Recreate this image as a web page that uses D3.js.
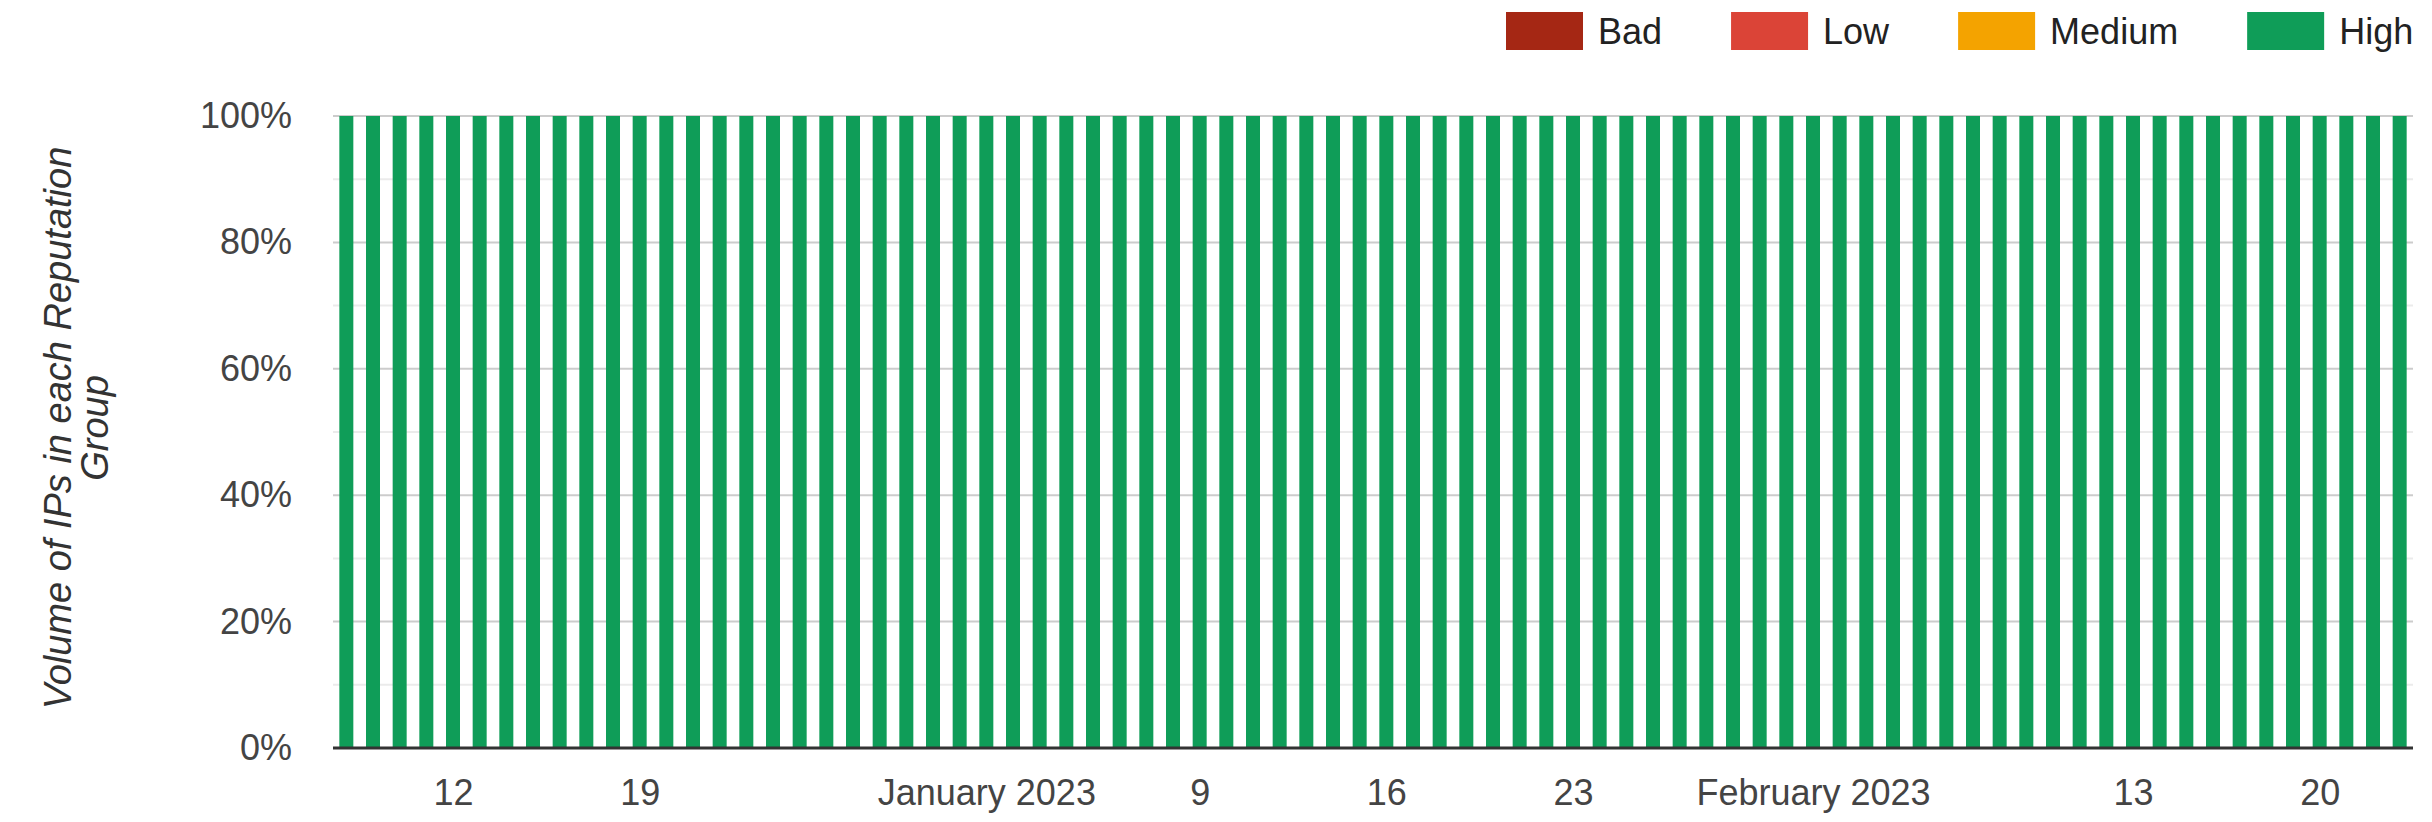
<!DOCTYPE html>
<html>
<head>
<meta charset="utf-8">
<script src="https://cdn.jsdelivr.net/npm/d3@7"></script>
<style>
  body { margin: 0; background: #fff; }
  svg { display: block; font-family: Arial, "Liberation Sans", sans-serif; }
</style>
</head>
<body>
<svg id="chart" width="2432" height="822"></svg>
<script>
// daily dates, 8 Dec 2022 .. 23 Feb 2023
var dayLabels = [
  "2022-12-08","2022-12-09","2022-12-10","2022-12-11","2022-12-12","2022-12-13","2022-12-14","2022-12-15",
  "2022-12-16","2022-12-17","2022-12-18","2022-12-19","2022-12-20","2022-12-21","2022-12-22","2022-12-23",
  "2022-12-24","2022-12-25","2022-12-26","2022-12-27","2022-12-28","2022-12-29","2022-12-30","2022-12-31",
  "2023-01-01","2023-01-02","2023-01-03","2023-01-04","2023-01-05","2023-01-06","2023-01-07","2023-01-08",
  "2023-01-09","2023-01-10","2023-01-11","2023-01-12","2023-01-13","2023-01-14","2023-01-15","2023-01-16",
  "2023-01-17","2023-01-18","2023-01-19","2023-01-20","2023-01-21","2023-01-22","2023-01-23","2023-01-24",
  "2023-01-25","2023-01-26","2023-01-27","2023-01-28","2023-01-29","2023-01-30","2023-01-31","2023-02-01",
  "2023-02-02","2023-02-03","2023-02-04","2023-02-05","2023-02-06","2023-02-07","2023-02-08","2023-02-09",
  "2023-02-10","2023-02-11","2023-02-12","2023-02-13","2023-02-14","2023-02-15","2023-02-16","2023-02-17",
  "2023-02-18","2023-02-19","2023-02-20","2023-02-21","2023-02-22","2023-02-23"
];

// share of IPs (%) per reputation group
var badValues = [
  0,0,0,0,0,0,0,0,0,0,0,0,0,0,0,0,0,0,0,0,0,0,0,0,0,0,0,0,0,0,0,0,0,0,0,0,0,0,0,
  0,0,0,0,0,0,0,0,0,0,0,0,0,0,0,0,0,0,0,0,0,0,0,0,0,0,0,0,0,0,0,0,0,0,0,0,0,0,0
];
var lowValues = [
  0,0,0,0,0,0,0,0,0,0,0,0,0,0,0,0,0,0,0,0,0,0,0,0,0,0,0,0,0,0,0,0,0,0,0,0,0,0,0,
  0,0,0,0,0,0,0,0,0,0,0,0,0,0,0,0,0,0,0,0,0,0,0,0,0,0,0,0,0,0,0,0,0,0,0,0,0,0,0
];
var mediumValues = [
  0,0,0,0,0,0,0,0,0,0,0,0,0,0,0,0,0,0,0,0,0,0,0,0,0,0,0,0,0,0,0,0,0,0,0,0,0,0,0,
  0,0,0,0,0,0,0,0,0,0,0,0,0,0,0,0,0,0,0,0,0,0,0,0,0,0,0,0,0,0,0,0,0,0,0,0,0,0,0
];
var highValues = [
  100,100,100,100,100,100,100,100,100,100,100,100,100,100,100,100,100,100,100,100,100,100,100,100,100,100,
  100,100,100,100,100,100,100,100,100,100,100,100,100,100,100,100,100,100,100,100,100,100,100,100,100,100,
  100,100,100,100,100,100,100,100,100,100,100,100,100,100,100,100,100,100,100,100,100,100,100,100,100,100
];

var seriesNames = ["Bad", "Low", "Medium", "High"];
var seriesColors = ["#a52714", "#db4437", "#f4a300", "#0f9d58"];

var xTickDates = ["2022-12-12","2022-12-19","2023-01-01","2023-01-09","2023-01-16","2023-01-23","2023-02-01","2023-02-13","2023-02-20"];
var xTickLabels = ["12","19","January 2023","9","16","23","February 2023","13","20"];
var yTicks = [0, 20, 40, 60, 80, 100];
var yMinorTicks = [10, 30, 50, 70, 90];

(function drawChart(){
  var parseDay = d3.timeParse("%Y-%m-%d");

  var rows = dayLabels.map(function(s, i){
    return { date: parseDay(s), Bad: badValues[i], Low: lowValues[i], Medium: mediumValues[i], High: highValues[i] };
  });

  var svg = d3.select("#chart");
  var plotLeft = 333, plotRight = 2413, plotTop = 116, plotBottom = 748;

  // half a day of padding either side so bars sit centred on their date
  var x = d3.scaleTime()
    .domain([d3.timeHour.offset(rows[0].date, -12), d3.timeHour.offset(rows[rows.length - 1].date, 12)])
    .range([plotLeft, plotRight]);
  var y = d3.scaleLinear().domain([0, 100]).range([plotBottom, plotTop]);
  var barW = 14;

  // minor gridlines
  svg.append("g").selectAll("line")
    .data(yMinorTicks)
    .enter()
    .append("line")
    .attr("x1", plotLeft).attr("x2", plotRight)
    .attr("y1", function(d){ return y(d); })
    .attr("y2", function(d){ return y(d); })
    .attr("stroke", "#ebebeb")
    .attr("stroke-width", 2);

  // major gridlines
  svg.append("g").selectAll("line")
    .data(yTicks.filter(function(d){ return d > 0; }))
    .enter()
    .append("line")
    .attr("x1", plotLeft).attr("x2", plotRight)
    .attr("y1", function(d){ return y(d); })
    .attr("y2", function(d){ return y(d); })
    .attr("stroke", "#cccccc")
    .attr("stroke-width", 2);

  // stacked bars
  var stacked = d3.stack().keys(seriesNames)(rows);
  svg.append("g").selectAll("g")
    .data(stacked)
    .enter()
    .append("g")
    .attr("fill", function(d, i){ return seriesColors[i]; })
    .selectAll("rect")
    .data(function(d){ return d; })
    .enter()
    .append("rect")
    .attr("x", function(d){ return x(d.data.date) - barW / 2; })
    .attr("width", barW)
    .attr("y", function(d){ return y(d[1]); })
    .attr("height", function(d){ return Math.max(0, y(d[0]) - y(d[1])); });

  // baseline
  svg.append("line")
    .attr("x1", plotLeft).attr("x2", plotRight)
    .attr("y1", y(0)).attr("y2", y(0))
    .attr("stroke", "#333")
    .attr("stroke-width", 3);

  // y axis labels
  var yAxis = svg.append("g")
    .attr("transform", "translate(292,0)")
    .call(d3.axisLeft(y).tickValues(yTicks).tickSize(0).tickPadding(0)
      .tickFormat(function(d){ return d + "%"; }));
  yAxis.select(".domain").remove();
  yAxis.selectAll("text")
    .attr("font-size", 36)
    .attr("font-family", "Arial, 'Liberation Sans', sans-serif")
    .attr("fill", "#444");

  // x axis labels
  var xAxis = svg.append("g")
    .attr("transform", "translate(0," + plotBottom + ")")
    .call(d3.axisBottom(x).tickValues(xTickDates.map(parseDay)).tickSize(0).tickPadding(31)
      .tickFormat(function(d, i){ return xTickLabels[i]; }));
  xAxis.select(".domain").remove();
  xAxis.selectAll("text")
    .attr("font-size", 36)
    .attr("font-family", "Arial, 'Liberation Sans', sans-serif")
    .attr("fill", "#444");

  // y axis title
  var yTitle = svg.append("text")
    .attr("transform", "translate(58," + ((plotTop + plotBottom) / 2 - 4) + ") rotate(-90)")
    .attr("text-anchor", "middle")
    .attr("font-size", 38)
    .attr("font-style", "italic")
    .attr("fill", "#333");
  yTitle.append("tspan").attr("x", 0).attr("dy", "0.35em").text("Volume of IPs in each Reputation");
  yTitle.append("tspan").attr("x", 0).attr("dy", 37).text("Group");

  // legend
  var legend = svg.append("g");
  var lx = 1506;
  seriesNames.forEach(function(name, i){
    var item = legend.append("g").attr("transform", "translate(" + lx + ",12)");
    item.append("rect")
      .attr("width", 77).attr("height", 38)
      .attr("fill", seriesColors[i]);
    var t = item.append("text")
      .attr("x", 92).attr("y", 19).attr("dy", "0.35em")
      .attr("font-size", 36)
      .attr("fill", "#222")
      .text(name);
    lx += 92 + t.node().getComputedTextLength() + 69;
  });
})();
</script>
</body>
</html>
